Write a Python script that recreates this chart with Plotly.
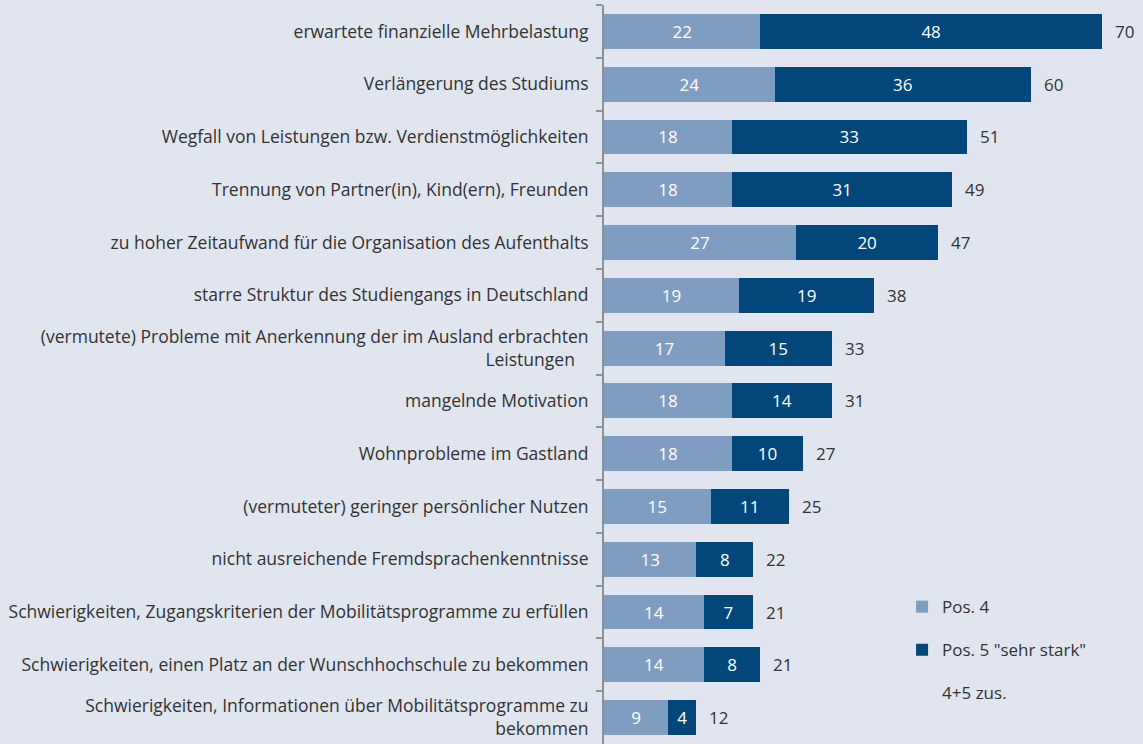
import plotly.graph_objects as go

categories = [
    "erwartete finanzielle Mehrbelastung",
    "Verlängerung des Studiums",
    "Wegfall von Leistungen bzw. Verdienstmöglichkeiten",
    "Trennung von Partner(in), Kind(ern), Freunden",
    "zu hoher Zeitaufwand für die Organisation des Aufenthalts",
    "starre Struktur des Studiengangs in Deutschland",
    "(vermutete) Probleme mit Anerkennung der im Ausland erbrachten<br>Leistungen\u00a0\u00a0\u00a0",
    "mangelnde Motivation",
    "Wohnprobleme im Gastland",
    "(vermuteter) geringer persönlicher Nutzen",
    "nicht ausreichende Fremdsprachenkenntnisse",
    "Schwierigkeiten, Zugangskriterien der Mobilitätsprogramme zu erfüllen",
    "Schwierigkeiten, einen Platz an der Wunschhochschule zu bekommen",
    "Schwierigkeiten, Informationen über Mobilitätsprogramme zu<br>bekommen",
]
pos4 = [22, 24, 18, 18, 27, 19, 17, 18, 18, 15, 13, 14, 14, 9]
pos5 = [48, 36, 33, 31, 20, 19, 15, 14, 10, 11, 8, 7, 8, 4]
totals = [70, 60, 51, 49, 47, 38, 33, 31, 27, 25, 22, 21, 21, 12]

LIGHT = "#7f9dc1"
DARK = "#02467a"
BG = "#e0e5ef"
TXT = "#333333"
FONT = "Open Sans"
FS = 17.5
NS = 17

fig = go.Figure()
fig.add_trace(go.Bar(
    y=categories, x=pos4, orientation="h", name="Pos. 4",
    marker=dict(color=LIGHT, line=dict(width=0)),
    text=pos4, textposition="inside", insidetextanchor="middle",
    textfont=dict(color="white", size=NS, family=FONT),
    legendgroup="a", constraintext="none",
))
fig.add_trace(go.Bar(
    y=categories, x=pos5, orientation="h", name='Pos. 5 "sehr stark"',
    marker=dict(color=DARK, line=dict(width=0)),
    text=pos5, textposition="inside", insidetextanchor="middle",
    textfont=dict(color="white", size=NS, family=FONT),
    legendgroup="b", constraintext="none",
))
fig.add_trace(go.Scatter(
    x=[None], y=[None], mode="markers", name="4+5 zus.",
    marker=dict(color="rgba(0,0,0,0)", size=10),
    legendgroup="c",
))

for cat, a, b, t in zip(categories, pos4, pos5, totals):
    fig.add_annotation(
        x=a + b, y=cat, text=str(t), showarrow=False,
        xanchor="left", xshift=11,
        font=dict(size=NS, color=TXT, family=FONT),
    )

fig.update_layout(
    width=1143, height=744,
    barmode="stack", bargap=0.34,
    paper_bgcolor=BG, plot_bgcolor=BG,
    margin=dict(l=604, r=0, t=5, b=0),
    font=dict(family=FONT, size=FS, color=TXT),
    legend=dict(
        x=0.553, y=0.2096, xanchor="left", yanchor="top",
        bgcolor="rgba(0,0,0,0)", tracegroupgap=18,
        font=dict(size=NS, color=TXT, family=FONT),
        traceorder="grouped",
    ),
    xaxis=dict(
        range=[0, 75.8], visible=False, showgrid=False, zeroline=False,
    ),
    yaxis=dict(
        autorange="reversed", showgrid=False, zeroline=False,
        showline=True, linecolor="#8d9199", linewidth=2,
        ticks="outside", ticklen=6, tickwidth=2, tickcolor="#8d9199",
        tickson="boundaries", ticklabelstandoff=10,
        tickfont=dict(size=FS, color=TXT, family=FONT),
    ),
)

fig.write_html(
    "out.html",
    config={"displayModeBar": False},
    post_script="document.body.style.margin='0';document.body.style.background='%s';" % BG,
)
